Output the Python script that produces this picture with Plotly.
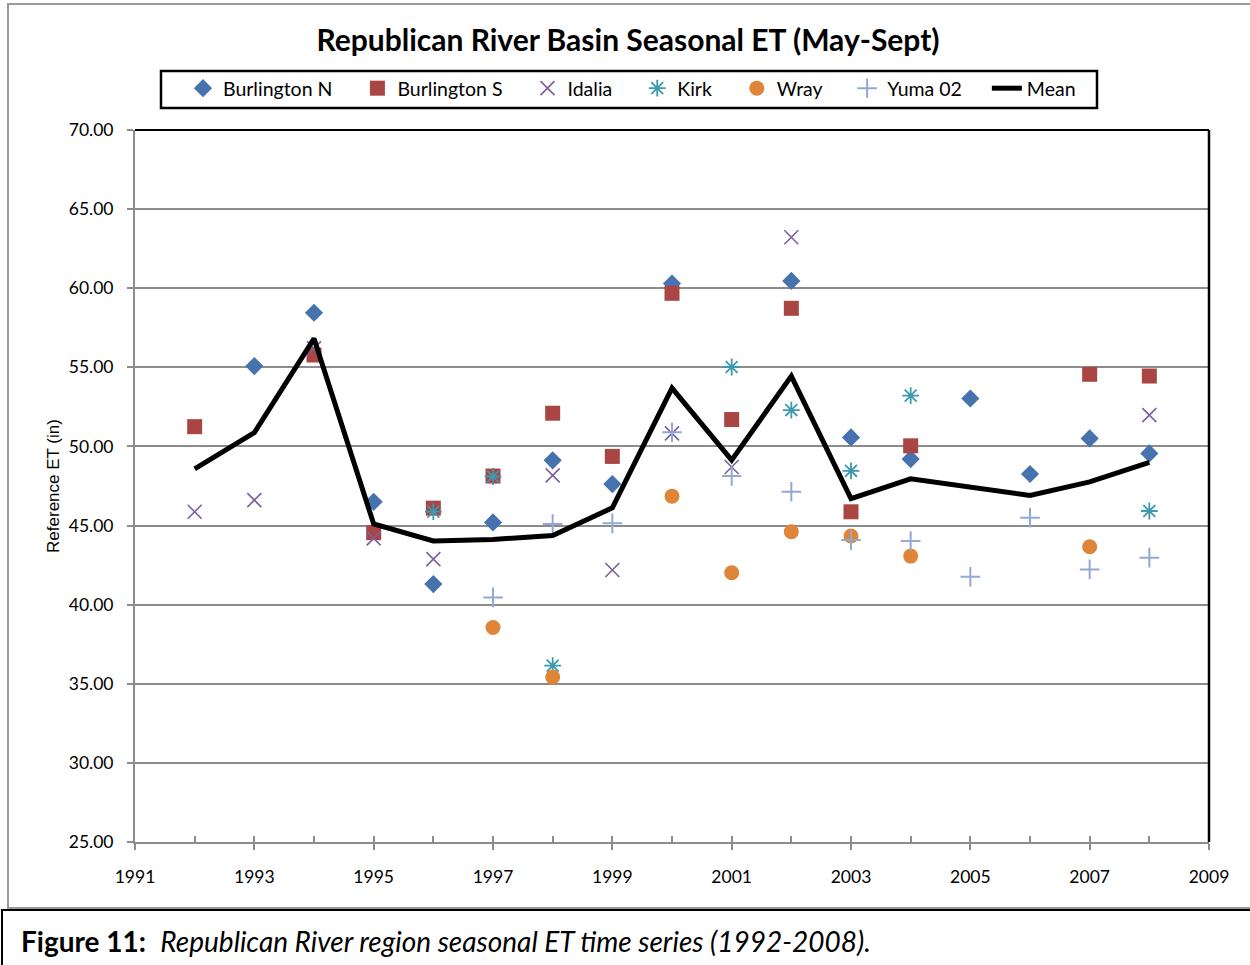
import plotly.graph_objects as go

# ---------------- data ----------------
years = list(range(1992, 2009))

burlington_n = [None, 55.08, 58.45, 46.50, 41.30, 45.20, 49.12, 47.62, 60.30, None,
                60.46, 50.57, 49.20, 53.03, 48.26, 50.51, 49.56]
burlington_s = [51.25, None, 55.78, 44.55, 46.10, 48.13, 52.10, 49.37, 59.68, 51.70,
                58.73, 45.87, 50.04, None, None, 54.56, 54.45]
idalia = [45.87, 46.61, 56.20, 44.19, 42.88, None, 48.17, 42.19, 50.83, 48.70,
          63.22, None, None, None, None, None, 51.98]
kirk = [None, None, None, None, 45.88, 48.10, 36.15, None, None, 55.02,
        52.30, 48.46, 53.21, None, None, None, 45.92]
wray = [None, None, None, None, None, 38.56, 35.43, None, 46.86, 42.02,
        44.61, 44.34, 43.07, None, None, 43.66, None]
yuma_02 = [None, None, None, None, None, 40.46, 45.10, 45.14, 50.90, 48.13,
           47.14, 44.08, 44.02, 41.76, 45.50, 42.23, 42.97]
mean_et = [48.58, 50.87, 56.82, 45.10, 44.03, 44.12, 44.37, 46.12, 53.69, 49.13,
           54.45, 46.70, 47.95, 47.42, 46.90, 47.76, 49.00]

y_ticks = [25, 30, 35, 40, 45, 50, 55, 60, 65, 70]
x_ticks = [1991, 1993, 1995, 1997, 1999, 2001, 2003, 2005, 2007, 2009]

# ---------------- layout geometry ----------------
W, H = 1250, 965
L, R, T, B = 135, 1209, 130, 842          # plot area in pixels


def px(xp):
    return (xp - L) / (R - L)


def py(yp):
    return (B - yp) / (B - T)


FONT = "Lato"
GRID = "#8c8c8c"
PAD = "\u00a0" * 4

fig = go.Figure()

series = [
    ("Burlington N", burlington_n, dict(symbol="diamond", size=14, color="#4672AE")),
    ("Burlington S", burlington_s, dict(symbol="square", size=15, color="#A94543")),
    ("Idalia", idalia, dict(symbol="x-thin-open", size=14, color="#7B5F9E",
                            line=dict(width=1.6, color="#7B5F9E"))),
    ("Kirk", kirk, dict(symbol="asterisk-open", size=14, color="#3C99B0",
                        line=dict(width=1.8, color="#3C99B0"))),
    ("Wray", wray, dict(symbol="circle", size=15, color="#DE8538")),
    ("Yuma 02", yuma_02, dict(symbol="cross-thin-open", size=14, color="#93A9D4",
                              line=dict(width=2, color="#93A9D4"))),
]
for name, vals, mk in series:
    fig.add_trace(go.Scatter(x=years, y=vals, mode="markers", name=name + PAD,
                             marker=mk, cliponaxis=False))

fig.add_trace(go.Scatter(x=years, y=mean_et, mode="lines", name="Mean",
                         line=dict(color="black", width=5)))

# helper axis for inside year ticks
fig.add_trace(go.Scatter(x=[], y=[], xaxis="x2", showlegend=False, hoverinfo="skip"))

shapes = [
    # outer chart border (gray)
    dict(type="rect", xref="paper", yref="paper", x0=px(8), x1=px(1262), y0=py(908), y1=py(4),
         line=dict(color="#9a9a9a", width=2), layer="below"),
    # caption box
    dict(type="rect", xref="paper", yref="paper", x0=px(2), x1=px(1262), y0=py(975), y1=py(910),
         line=dict(color="black", width=2), layer="below"),
    # legend box
    dict(type="rect", xref="paper", yref="paper", x0=px(161), x1=px(1097), y0=py(108), y1=py(71),
         line=dict(color="black", width=2.5), fillcolor="white", layer="below"),
    # black top and right plot frame
    dict(type="line", xref="paper", yref="paper", x0=0, x1=1, y0=1, y1=1,
         line=dict(color="black", width=2)),
    dict(type="line", xref="paper", yref="paper", x0=1, x1=1, y0=0, y1=1,
         line=dict(color="black", width=2.5)),
]

fig.update_layout(
    width=W, height=H,
    margin=dict(l=L, r=W - R, t=T, b=H - B, autoexpand=False),
    paper_bgcolor="white", plot_bgcolor="white",
    font=dict(family=FONT, color="black"),
    title=dict(text="<b>Republican River Basin Seasonal ET (May-Sept)</b>",
               x=628 / W, xanchor="center", xref="container",
               y=1 - 40 / H, yanchor="middle", yref="container",
               font=dict(family=FONT, size=30, color="black")),
    legend=dict(orientation="h", x=px(183), y=py(69), xanchor="left", yanchor="top",
                borderwidth=0, bgcolor="rgba(0,0,0,0)",
                font=dict(family=FONT, size=19.5, color="black"), traceorder="normal"),
    xaxis=dict(range=[1991, 2009], tickmode="array", tickvals=x_ticks,
               ticktext=[str(v) for v in x_ticks], ticks="outside", ticklen=6,
               tickwidth=2, tickcolor=GRID, showline=True, linecolor=GRID, linewidth=2,
               showgrid=False, zeroline=False, ticklabelstandoff=12,
               tickfont=dict(family=FONT, size=17.5, color="black")),
    xaxis2=dict(range=[1991, 2009], overlaying="x", anchor="y", tickmode="linear",
                tick0=1991, dtick=1, ticks="inside", ticklen=6, tickwidth=2,
                tickcolor=GRID, showticklabels=False, showgrid=False, zeroline=False,
                showline=False),
    yaxis=dict(range=[25, 70], tickmode="array", tickvals=y_ticks,
               ticktext=[f"{v:.2f}" for v in y_ticks], ticks="outside", ticklen=6,
               tickwidth=2, tickcolor=GRID, showline=True, linecolor=GRID, linewidth=2,
               showgrid=True, gridcolor=GRID, gridwidth=2, zeroline=False,
               ticklabelstandoff=10,
               tickfont=dict(family=FONT, size=17.5, color="black"),
               title=dict(text="Reference ET (in)", standoff=5,
                          font=dict(family="Liberation Sans", size=17, color="black"))),
    shapes=shapes,
    annotations=[
        dict(text="<b>Figure 11:</b>  <i>Republican River region seasonal ET time series (1992-2008).</i>",
             xref="paper", yref="paper", x=px(19), y=py(941), xanchor="left", yanchor="middle",
             showarrow=False, font=dict(family=FONT, size=28, color="black")),
    ],
)

fig.write_html("out.html", config={"displayModeBar": False},
               post_script="document.body.style.margin='0';")
